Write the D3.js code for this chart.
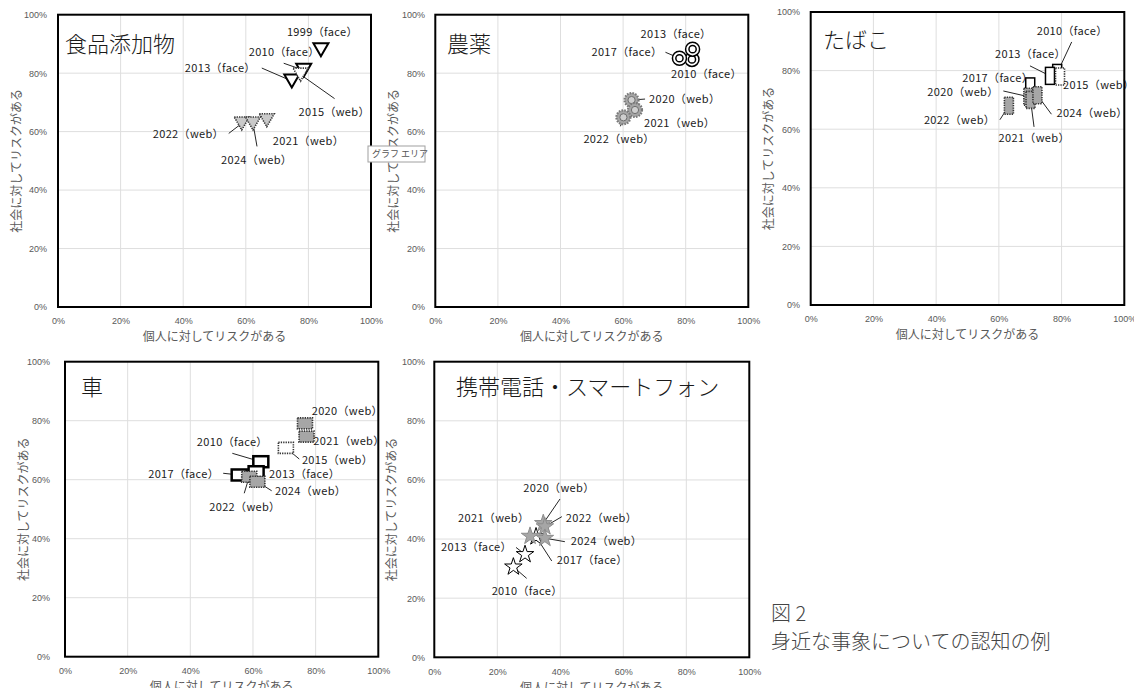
<!DOCTYPE html>
<html><head><meta charset="utf-8">
<script src="https://cdn.jsdelivr.net/npm/d3@7"></script>
<style>body{margin:0;background:#fff} svg{display:block}</style>
</head><body><svg id="chart" width="1134" height="688"></svg>
<script>
// ---- data: share who see a risk to themselves (individual) and to society ----
// 食品添加物
const additiveLabels     = ["1999（face）","2010（face）","2013（face）","2015（web）","2021（web）","2022（web）","2024（web）"];
const additiveIndividual = [0.840, 0.785, 0.747, 0.775, 0.667, 0.587, 0.623];
const additiveSociety    = [0.880, 0.810, 0.773, 0.795, 0.639, 0.628, 0.628];
// 農薬
const pesticideLabels     = ["2010（face）","2013（face）","2017（face）","2020（web）","2021（web）","2022（web）"];
const pesticideIndividual = [0.820, 0.822, 0.780, 0.627, 0.638, 0.601];
const pesticideSociety    = [0.847, 0.882, 0.851, 0.708, 0.674, 0.649];
// たばこ
const tobaccoLabels     = ["2010（face）","2013（face）","2015（web）","2017（face）","2020（web）","2021（web）","2022（web）","2024（web）"];
const tobaccoIndividual = [0.786, 0.763, 0.795, 0.700, 0.694, 0.701, 0.632, 0.723];
const tobaccoSociety    = [0.792, 0.782, 0.780, 0.746, 0.711, 0.700, 0.680, 0.716];
// 車
const carLabels     = ["2010（face）","2013（face）","2015（web）","2017（face）","2020（web）","2021（web）","2022（web）","2024（web）"];
const carIndividual = [0.625, 0.610, 0.705, 0.556, 0.766, 0.771, 0.588, 0.614];
const carSociety    = [0.661, 0.627, 0.708, 0.616, 0.791, 0.746, 0.610, 0.593];
// 携帯電話・スマートフォン
const phoneLabels     = ["2010（face）","2013（face）","2017（face）","2020（web）","2021（web）","2022（web）","2024（web）"];
const phoneIndividual = [0.251, 0.288, 0.323, 0.346, 0.304, 0.351, 0.351];
const phoneSociety    = [0.306, 0.348, 0.408, 0.453, 0.410, 0.442, 0.403];

const axisTicks = [0, 0.2, 0.4, 0.6, 0.8, 1.0];
const xAxisTitle = "個人に対してリスクがある";
const yAxisTitle = "社会に対してリスクがある";

// ---- label placement: [label dx, label dy, leader start dx, leader start dy] relative to the marker ----
const additiveLabelPos  = [[-34,-17],[-55,-17,-20,-7],[-107,-12,-30,-13],[-2,38,34,24],[6,21.5],[-89,12,-13,10],[-32,38,4,23]];
const pesticideLabelPos = [[-21,16],[-52,-14],[-88,-5,-14,-6],[17.5,0,13.5,-1],[9,14],[-40,23,-3,9]];
const tobaccoLabelPos   = [[-20.5,-41,14.5,-31],[-55,-21,-20,-10],[3,9.5],[-68,-7],[-101,-3.4,-25,-5.7],[-32,39.4,3.5,27],[-85,15,-9,14],[19,19,14,19]];
const carLabelPos       = [[-64,-19,-28.5,-8.4],[13,3.3],[16,13,13.4,11.2],[-91,0,-16,-1.7],[6.7,-11.6],[6.8,5.7],[-40,31.5,-5,16.5],[17.6,10,14.3,9]];
const phoneLabelPos     = [[-21.7,25,13.3,11.5],[-84,-6.7,-9,-7],[20.7,24.3,15.7,24.3],[-20,-34.4,16.7,-24.4],[-72,-17],[21,-7.6,17,-10],[26,3.5,20,3.5]];

// ---- marker shapes ----
const shapes = {
  triangle: g => g.append("path").attr("d", "M-7.5,-6.5L7.5,-6.5L0,6.5Z"),
  ring: g => {
    const o = g.append("circle").attr("r", 7);
    g.append("circle").attr("r", 3.6).attr("class", "inner");
    return o;
  },
  tallRect: g => g.append("rect").attr("x", -4.5).attr("y", -8.5).attr("width", 9).attr("height", 17),
  wideRect: g => g.append("rect").attr("x", -7.5).attr("y", -5.5).attr("width", 15).attr("height", 11),
  star: g => g.append("path").attr("d", d3.symbol(d3.symbolStar, 95)())
};

const panels = [
  {title:"食品添加物", labels:additiveLabels, xs:additiveIndividual, ys:additiveSociety, pos:additiveLabelPos,
   shape:"triangle", box:[58,371,14.7,307], yTickEnd:47, yTitleX:18, titleXY:[65,52], faceW:2, webFill:"#c9c9c9"},
  {title:"農薬", labels:pesticideLabels, xs:pesticideIndividual, ys:pesticideSociety, pos:pesticideLabelPos,
   shape:"ring", box:[435.3,748.3,14.7,307], yTickEnd:425, yTitleX:395, titleXY:[447,52], faceW:1.5, webFill:"#a6a6a6"},
  {title:"たばこ", labels:tobaccoLabels, xs:tobaccoIndividual, ys:tobaccoSociety, pos:tobaccoLabelPos,
   shape:"tallRect", box:[810.7,1124.3,12,305], yTickEnd:800, yTitleX:770, titleXY:[823,48], faceW:1.5, webFill:"#a6a6a6"},
  {title:"車", labels:carLabels, xs:carIndividual, ys:carSociety, pos:carLabelPos,
   shape:"wideRect", box:[65,378.3,361.7,656.7], yTickEnd:50, yTitleX:25, titleXY:[81,395], faceW:2.5, webFill:"#a6a6a6"},
  {title:"携帯電話・スマートフォン", labels:phoneLabels, xs:phoneIndividual, ys:phoneSociety, pos:phoneLabelPos,
   shape:"star", box:[434.3,749.3,361.7,657.3], yTickEnd:425, yTitleX:393, titleXY:[456,395], faceW:1, webFill:"#a6a6a6"}
];

const svg = d3.select("#chart");
svg.append("rect").attr("width", 1134).attr("height", 688).attr("fill", "#fff");
const fmt = d3.format(".0%");
const jp = "'Noto Sans CJK JP', 'Noto Sans', sans-serif";

panels.forEach(p => {
  const [x0, x1, y0, y1] = p.box;
  const x = d3.scaleLinear().domain([0, 1]).range([x0, x1]);
  const y = d3.scaleLinear().domain([0, 1]).range([y1, y0]);
  const g = svg.append("g");

  // gridlines
  g.append("g").selectAll("line").data(axisTicks.slice(1, -1)).join("line")
    .attr("x1", d => x(d)).attr("x2", d => x(d)).attr("y1", y0).attr("y2", y1)
    .attr("stroke", "#dedede").attr("stroke-width", 1);
  g.append("g").selectAll("line").data(axisTicks.slice(1, -1)).join("line")
    .attr("y1", d => y(d)).attr("y2", d => y(d)).attr("x1", x0).attr("x2", x1)
    .attr("stroke", "#dedede").attr("stroke-width", 1);

  // axes (labels only, no tick marks)
  const xAxis = g.append("g").attr("transform", `translate(0,${y1})`)
    .call(d3.axisBottom(x).tickValues(axisTicks).tickFormat(fmt).tickSize(0).tickPadding(11));
  const yAxis = g.append("g").attr("transform", `translate(${p.yTickEnd},0)`)
    .call(d3.axisLeft(y).tickValues(axisTicks).tickFormat(fmt).tickSize(0).tickPadding(0));
  [xAxis, yAxis].forEach(a => {
    a.select(".domain").remove();
    a.selectAll("text").attr("fill", "#595959").attr("font-size", 9)
      .attr("font-family", "'Liberation Sans', Arial, sans-serif");
  });

  // axis titles
  g.append("text").attr("x", (x0 + x1) / 2).attr("y", y1 + 31)
    .attr("text-anchor", "middle").attr("dominant-baseline", "middle")
    .attr("font-family", jp).attr("font-size", 12).attr("fill", "#595959").text(xAxisTitle);
  g.append("text").attr("transform", `translate(${p.yTitleX},${(y0 + y1) / 2}) rotate(-90)`)
    .attr("text-anchor", "middle").attr("dominant-baseline", "middle")
    .attr("font-family", jp).attr("font-size", 12).attr("fill", "#595959").text(yAxisTitle);

  // panel title
  g.append("text").attr("x", p.titleXY[0]).attr("y", p.titleXY[1])
    .attr("font-family", jp).attr("font-weight", 300).attr("font-size", 22).attr("fill", "#1a1a1a").text(p.title);

  const pts = p.labels.map((lab, i) => ({
    lab, px: x(p.xs[i]), py: y(p.ys[i]), pos: p.pos[i],
    web: lab.includes("web"), hollow: lab.startsWith("2015")
  }));

  // leader lines
  g.append("g").selectAll("line").data(pts.filter(d => d.pos.length > 2)).join("line")
    .attr("x1", d => d.px + d.pos[2]).attr("y1", d => d.py + d.pos[3])
    .attr("x2", d => d.px).attr("y2", d => d.py)
    .attr("stroke", "#262626").attr("stroke-width", 1);

  // markers
  const mk = g.append("g").selectAll("g").data(pts).join("g")
    .attr("transform", d => `translate(${d.px},${d.py})`);
  mk.each(function(d) {
    const m = d3.select(this);
    shapes[p.shape](m);
    const body = m.selectAll(":scope > *");
    if (!d.web) {
      body.attr("fill", "#fff").attr("stroke", "#000").attr("stroke-width", p.faceW);
    } else if (p.shape === "ring") {
      m.select("circle").attr("fill", p.webFill).attr("stroke", "#7a7a7a")
        .attr("stroke-width", 2.2).attr("stroke-dasharray", "1.6,1.2");
      m.select(".inner").attr("fill", "#cfcfcf").attr("stroke", "#6e6e6e").attr("stroke-width", 1);
    } else if (p.shape === "star") {
      body.attr("fill", p.webFill).attr("stroke", "#8c8c8c").attr("stroke-width", 1);
    } else {
      body.attr("fill", d.hollow ? "#fff" : p.webFill).attr("stroke", "#333")
        .attr("stroke-width", 1.6).attr("stroke-dasharray", "1.3,1.1");
    }
  });

  // data labels
  g.append("g").selectAll("text").data(pts).join("text")
    .attr("x", d => d.px + d.pos[0]).attr("y", d => d.py + d.pos[1])
    .attr("dominant-baseline", "middle")
    .attr("font-family", jp).attr("font-size", 11).attr("letter-spacing", 0.35).attr("fill", "#1a1a1a")
    .text(d => d.lab);

  // plot frame
  g.append("rect").attr("x", x0).attr("y", y0).attr("width", x1 - x0).attr("height", y1 - y0)
    .attr("fill", "none").attr("stroke", "#000").attr("stroke-width", 2);
});

// hover tag over the first panel's edge
const tag = svg.append("g").attr("transform", "translate(368,146)");
tag.append("rect").attr("width", 57).attr("height", 16).attr("fill", "#fff")
  .attr("stroke", "#a0a0a0").attr("stroke-width", 1);
tag.append("text").attr("x", 4).attr("y", 8.5).attr("dominant-baseline", "middle")
  .attr("font-family", jp).attr("font-size", 9).attr("fill", "#555").text("グラフ エリア");

// caption
const cap = svg.append("g").attr("font-family", jp).attr("font-weight", 300).attr("fill", "#444").attr("font-size", 20);
cap.append("text").attr("x", 771).attr("y", 621).text("図 2");
cap.append("text").attr("x", 771).attr("y", 649).text("身近な事象についての認知の例");
</script></body></html>
